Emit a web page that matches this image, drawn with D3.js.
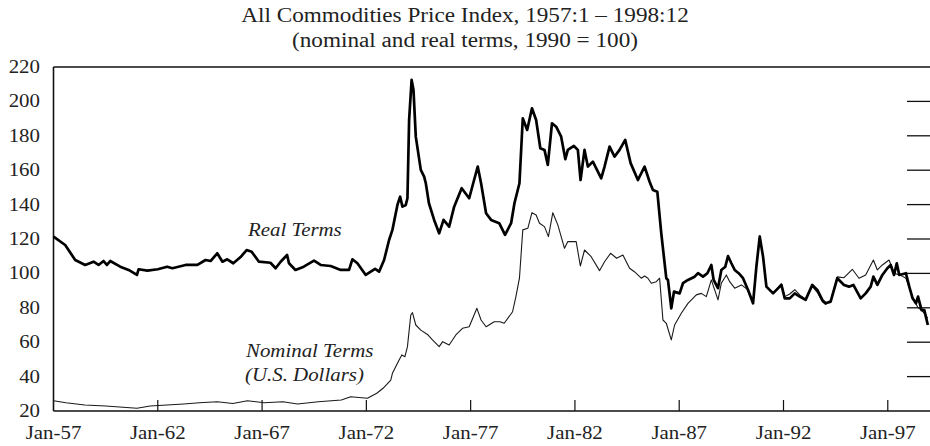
<!DOCTYPE html>
<html>
<head>
<meta charset="utf-8">
<script src="https://cdn.jsdelivr.net/npm/d3@7"></script>
<style>
  body { margin: 0; background: #fff; }
  text { font-family: "Liberation Serif", "Times New Roman", serif; fill: #222; }
</style>
</head>
<body>
<div id="chart"></div>
<script>
// [decimal year, index]
var realTerms = [
  [1957.0,121.4],[1957.56,116.5],[1958.04,107.8],[1958.52,104.9],[1958.92,106.8],[1959.16,104.9],
  [1959.4,107.2],[1959.56,104.9],[1959.72,107.2],[1960.2,103.9],[1960.6,102],[1961.0,99.1],
  [1961.08,102.4],[1961.5,101.6],[1962.0,102.4],[1962.45,103.9],[1962.7,103],[1963.33,104.9],
  [1963.9,104.9],[1964.29,107.8],[1964.53,107.2],[1964.85,111.7],[1965.1,106.8],[1965.33,108.2],
  [1965.62,105.9],[1965.97,109.5],[1966.26,113.6],[1966.5,112.6],[1966.85,106.8],[1967.4,106.2],
  [1967.65,103],[1967.89,106.8],[1968.2,110.7],[1968.29,105.9],[1968.6,102],[1969.0,103.9],
  [1969.49,107.4],[1969.81,104.9],[1970.29,104.3],[1970.77,102],[1971.17,102],[1971.33,108.2],
  [1971.57,105.9],[1971.97,99.1],[1972.21,101],[1972.42,102.6],[1972.61,101],[1972.85,107.8],
  [1973.09,119.4],[1973.25,125.3],[1973.49,139.8],[1973.62,144.6],[1973.73,138.8],[1973.89,139.8],
  [1973.97,143.7],[1974.05,189.2],[1974.17,212.5],[1974.26,206.7],[1974.37,179.5],[1974.61,160.2],
  [1974.77,156.3],[1974.85,152.4],[1975.0,140.8],[1975.25,131.1],[1975.49,123.3],[1975.7,131.1],
  [1975.97,127.2],[1976.21,138.8],[1976.57,149.5],[1976.93,143.7],[1977.1,151.4],[1977.34,162.1],
  [1977.5,152.4],[1977.74,135],[1977.98,131.1],[1978.37,129.2],[1978.65,122.4],[1978.94,129.2],
  [1979.1,140.8],[1979.34,152.4],[1979.5,190.2],[1979.71,183.4],[1979.94,196],[1980.14,189.2],
  [1980.34,172.8],[1980.54,171.8],[1980.7,163.1],[1980.9,187.3],[1981.1,185.3],[1981.34,179.5],
  [1981.54,166.4],[1981.66,171.8],[1981.95,174.1],[1982.14,171.8],[1982.27,154.3],[1982.46,171.8],
  [1982.62,162.1],[1982.86,165],[1983.26,155.3],[1983.42,162.1],[1983.66,173.7],[1983.9,167.9],
  [1984.14,171.8],[1984.41,177.6],[1984.67,164.1],[1985.02,154.3],[1985.34,162.1],[1985.58,153.3],
  [1985.74,148.5],[1985.95,147.5],[1986.14,123.3],[1986.3,105.9],[1986.38,97.2],[1986.46,96.2],
  [1986.62,79.7],[1986.75,89.4],[1987.02,88.4],[1987.18,94.3],[1987.42,96.2],[1987.74,98.1],
  [1987.9,100.1],[1988.14,98.1],[1988.35,100.1],[1988.54,104.9],[1988.65,96.2],[1988.86,91.4],
  [1989.02,102],[1989.21,103.9],[1989.34,110.1],[1989.5,105.9],[1989.66,102],[1989.85,100.1],
  [1990.06,97.2],[1990.3,90.4],[1990.54,82.6],[1990.7,103.9],[1990.86,121.4],[1991.02,109.7],
  [1991.18,92.3],[1991.5,88.4],[1991.9,93.3],[1992.06,85.5],[1992.3,85.5],[1992.54,88.4],
  [1992.78,86.5],[1993.06,84.6],[1993.38,93.3],[1993.62,90.4],[1993.86,84.6],[1994.02,82.6],
  [1994.26,83.6],[1994.58,97.2],[1994.9,93.3],[1995.14,92.3],[1995.35,93.3],[1995.7,85.5],
  [1995.94,88.4],[1996.18,92.3],[1996.31,98.1],[1996.5,93.3],[1996.74,99.1],[1996.98,103],
  [1997.14,104.9],[1997.3,99.1],[1997.43,105.9],[1997.55,99.1],[1997.87,100.1],[1998.03,92.3],
  [1998.19,85.5],[1998.35,82.6],[1998.45,86.5],[1998.62,78.7],[1998.75,78.7],[1998.92,70]
];

var nominalTerms = [
  [1957.0,26],[1957.6,24.8],[1958.5,23.5],[1959.5,22.9],[1961.0,21.6],[1961.64,22.9],
  [1963.24,24.1],[1964.0,24.8],[1964.85,25.4],[1965.6,24.4],[1966.3,26],[1967.1,24.8],
  [1968.0,25.4],[1968.7,24.1],[1969.7,25.4],[1970.8,26.4],[1971.25,28.3],[1972.05,27.4],
  [1972.5,30.3],[1972.8,33.2],[1973.17,38],[1973.25,41.9],[1973.57,49.7],[1973.7,52.6],
  [1973.85,51.6],[1973.97,57.4],[1974.13,75.8],[1974.21,77.2],[1974.37,70],[1974.61,67],
  [1974.93,64.5],[1975.17,61.3],[1975.49,57.4],[1975.66,60.3],[1975.97,58.4],[1976.29,64.2],
  [1976.61,68.1],[1976.93,69],[1977.3,79.7],[1977.5,72.9],[1977.74,69],[1978.13,71.9],
  [1978.4,71.9],[1978.61,71],[1979.01,77.7],[1979.17,86.5],[1979.34,97.2],[1979.5,125.3],
  [1979.74,126.2],[1979.94,135.3],[1980.14,134],[1980.3,129.2],[1980.54,127.2],[1980.73,121.4],
  [1980.94,135.3],[1981.18,128.2],[1981.5,114.6],[1981.66,118.5],[1982.06,118.5],[1982.26,104.3],
  [1982.46,113.6],[1982.78,109.7],[1983.18,101.6],[1983.42,106.8],[1983.71,111.7],[1984.0,108.8],
  [1984.3,110.7],[1984.62,103],[1984.85,101],[1985.18,97.2],[1985.34,98.5],[1985.5,97.2],
  [1985.66,94.3],[1985.9,95.2],[1986.06,97.2],[1986.22,72.9],[1986.38,71],[1986.62,61.3],
  [1986.78,70],[1987.1,76.8],[1987.42,82.6],[1987.82,87.5],[1988.06,88.4],[1988.3,86.5],
  [1988.54,96.2],[1988.86,84.6],[1989.02,94.3],[1989.26,99.1],[1989.42,95.2],[1989.66,91.4],
  [1989.98,93.3],[1990.3,90.4],[1990.54,83],[1990.7,104.5],[1990.86,122],[1991.02,110],
  [1991.18,92.5],[1991.5,88.5],[1991.9,94],[1992.06,86.5],[1992.3,88],[1992.54,90.5],
  [1992.78,87.5],[1993.06,85],[1993.38,92.5],[1993.62,89],[1993.86,83.5],[1994.02,82],
  [1994.26,84],[1994.58,98],[1994.9,97.5],[1995.3,102.4],[1995.62,97.2],[1995.94,99.1],
  [1996.31,107.8],[1996.5,102],[1996.74,104.9],[1997.06,107.8],[1997.3,100.1],[1997.6,99],
  [1997.87,97.2],[1998.19,86],[1998.45,80],[1998.62,78.7],[1998.92,73.9]
];

var yTicks = [20, 40, 60, 80, 100, 120, 140, 160, 180, 200, 220];
var rightTicks = [40, 60, 80, 100, 120, 140, 160, 180, 200];
var xTicks = [1957, 1962, 1967, 1972, 1977, 1982, 1987, 1992, 1997];
var titleLines = ["All Commodities Price Index, 1957:1 \u2013 1998:12",
                  "(nominal and real terms, 1990 = 100)"];

var W = 930, H = 446;
var sx = 1.16; // the original type is a bit wide

var x = d3.scaleLinear().domain([1957, 1999]).range([53.5, 929.5]);
var y = d3.scaleLinear().domain([20, 220]).range([411, 67]);

var svg = d3.select('#chart').append('svg')
    .attr('width', W)
    .attr('height', H);

// helper for stretched text
function label(g, tx, ty, str, anchor, size, italic) {
  return g.append('text')
    .attr('transform', 'translate(' + tx + ',' + ty + ') scale(' + sx + ',1)')
    .attr('text-anchor', anchor)
    .style('font-size', size + 'px')
    .style('font-style', italic ? 'italic' : 'normal')
    .text(str);
}

// title
titleLines.forEach(function(t, i) {
  label(svg, 465, 22 + i * 25, t, 'middle', 20, false);
});

// frame: left, bottom, top
var frame = svg.append('g').attr('stroke', '#111').attr('stroke-width', 1.6);
frame.append('line').attr('x1', x(1957)).attr('x2', x(1957)).attr('y1', y(220)).attr('y2', y(20));
frame.append('line').attr('x1', x(1957)).attr('x2', W).attr('y1', y(20)).attr('y2', y(20));
frame.append('line').attr('x1', x(1957)).attr('x2', W).attr('y1', y(220)).attr('y2', y(220));

// bottom ticks point inward
frame.selectAll('.xt').data(xTicks.slice(1)).enter().append('line')
    .attr('x1', d => x(d)).attr('x2', d => x(d))
    .attr('y1', y(20)).attr('y2', y(20) - 11)
    .attr('stroke-width', 1.2);

// short ticks at the right edge
frame.selectAll('.rt').data(rightTicks).enter().append('line')
    .attr('x1', 907).attr('x2', W)
    .attr('y1', d => y(d)).attr('y2', d => y(d))
    .attr('stroke-width', 1.3);

// y labels
yTicks.forEach(function(v) {
  label(svg, 40, y(v) + 6, v, 'end', 18, false);
});

// x labels
xTicks.forEach(function(v) {
  label(svg, x(v), 439, 'Jan-' + String(v).slice(2), 'middle', 18, false);
});

var line = d3.line()
    .x(d => x(d[0]))
    .y(d => y(d[1]));

svg.append('path')
    .datum(nominalTerms)
    .attr('fill', 'none')
    .attr('stroke', '#1a1a1a')
    .attr('stroke-width', 1.1)
    .attr('stroke-linejoin', 'round')
    .attr('d', line);

svg.append('path')
    .datum(realTerms)
    .attr('fill', 'none')
    .attr('stroke', '#000')
    .attr('stroke-width', 2.7)
    .attr('stroke-linejoin', 'round')
    .attr('d', line);

// series labels
label(svg, 248, 235.5, 'Real Terms', 'start', 18, true);
label(svg, 246, 356.5, 'Nominal Terms', 'start', 18, true);
label(svg, 245, 381, '(U.S. Dollars)', 'start', 18, true);
</script>
</body>
</html>
